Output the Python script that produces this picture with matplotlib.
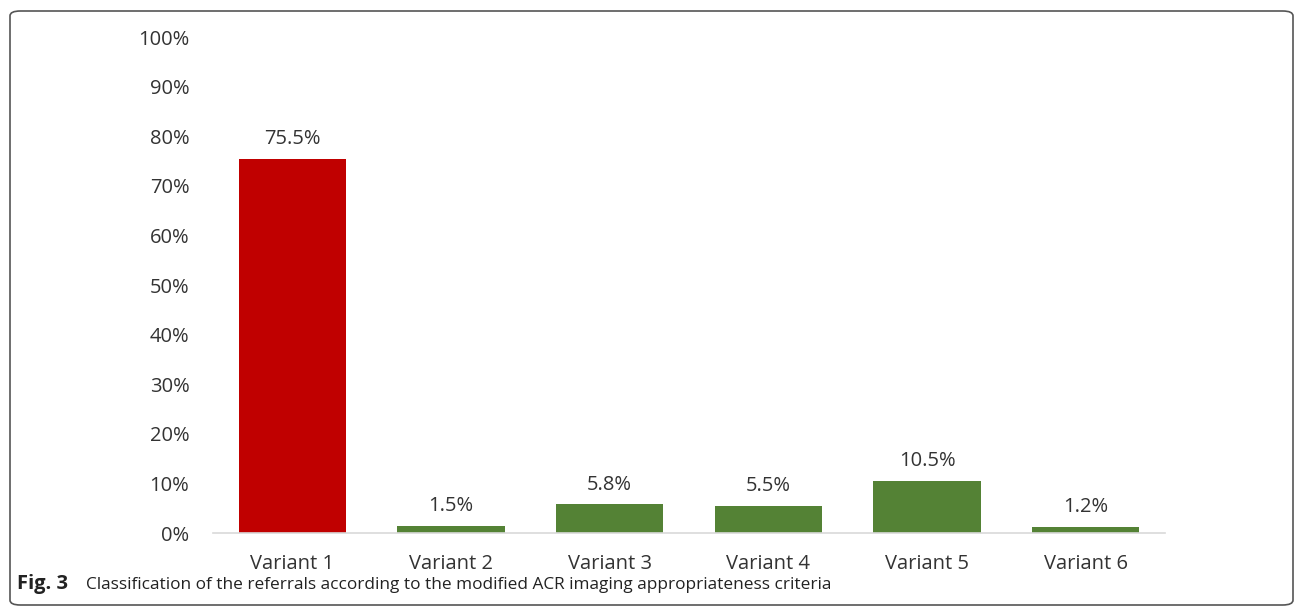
import matplotlib.pyplot as plt
from matplotlib.patches import FancyBboxPatch

# data
categories = ['Variant 1', 'Variant 2', 'Variant 3', 'Variant 4', 'Variant 5', 'Variant 6']
values = [75.5, 1.5, 5.8, 5.5, 10.5, 1.2]
colors = ['#C00000', '#548235', '#548235', '#548235', '#548235', '#548235']
yticks = [0, 10, 20, 30, 40, 50, 60, 70, 80, 90, 100]

plt.rcParams['font.family'] = ['Open Sans', 'DejaVu Sans']

fig = plt.figure(figsize=(12.95, 6.07), dpi=100)
ax = fig.add_axes([0.1645, 0.1219, 0.7351, 0.8171])

x = range(len(categories))
bars = ax.bar(x, values, width=0.675, color=colors)
for i, v in enumerate(values):
    ax.annotate(f'{v:.1f}%', xy=(i, v), xytext=(0, 7), textcoords='offset points',
                ha='center', va='bottom', fontsize=14.5, color='#333333')

ax.set_xlim(-0.5, len(categories) - 0.5)
ax.set_ylim(0, 100)
ax.set_yticks(yticks)
ax.set_yticklabels([f'{t}%' for t in yticks])
ax.set_xticks(list(x))
ax.set_xticklabels(categories)
ax.tick_params(axis='both', length=0, labelsize=14.5, labelcolor='#333333')
ax.tick_params(axis='y', pad=17)
ax.tick_params(axis='x', pad=15)
for s in ['top', 'right', 'left']:
    ax.spines[s].set_visible(False)
ax.spines['bottom'].set_color('#D9D9D9')
ax.spines['bottom'].set_linewidth(1.2)

# caption
cap_y = 1 - 589 / 607
fig.text(17 / 1295, cap_y, 'Fig. 3', fontsize=14.5, fontweight='bold',
         va='baseline', color='#222222')
fig.text(86 / 1295, cap_y,
         'Classification of the referrals according to the modified ACR imaging appropriateness criteria',
         va='baseline', ha='left', fontsize=12.4, color='#222222')

# rounded border
border = FancyBboxPatch((10 / 1295, 2 / 607), 1283 / 1295, 594 / 607,
                        boxstyle='round,pad=0,rounding_size=0.008',
                        transform=fig.transFigure, fill=False,
                        edgecolor='#555555', linewidth=1.2)
fig.patches.append(border)

fig.savefig('out.png', dpi=100)
